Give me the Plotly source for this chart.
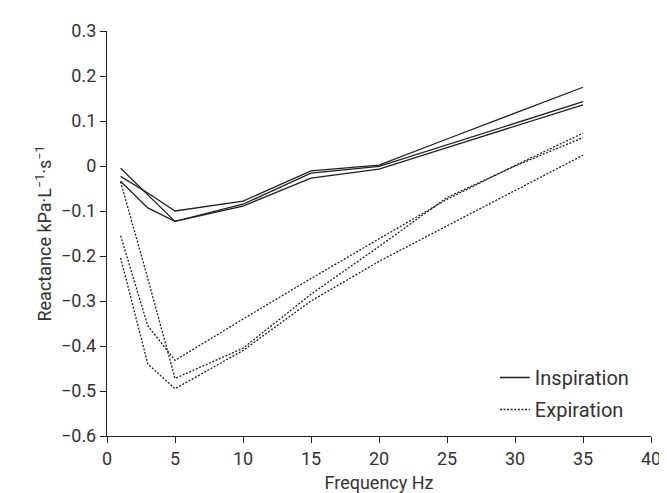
import plotly.graph_objects as go

freq = [1, 3, 5, 10, 15, 20, 25, 30, 35]

insp_1 = [-0.005, -0.065, -0.123, -0.085, -0.016, -0.001, 0.047, 0.095, 0.143]
insp_2 = [-0.023, -0.060, -0.100, -0.078, -0.011, 0.002, 0.060, 0.118, 0.175]
insp_3 = [-0.034, -0.093, -0.123, -0.089, -0.027, -0.007, 0.041, 0.088, 0.136]

exp_1 = [-0.035, -0.250, -0.472, -0.405, -0.285, -0.179, -0.070, 0.000, 0.063]
exp_2 = [-0.155, -0.355, -0.432, -0.340, -0.250, -0.162, -0.074, 0.001, 0.073]
exp_3 = [-0.204, -0.440, -0.495, -0.410, -0.300, -0.212, -0.133, -0.055, 0.024]

x_ticks = [0, 5, 10, 15, 20, 25, 30, 35, 40]
y_ticks = [0.3, 0.2, 0.1, 0, -0.1, -0.2, -0.3, -0.4, -0.5, -0.6]

INK = "#231f20"
TXT = "#333333"
FONT = "Roboto"

fig = go.Figure()
for i, ys in enumerate([insp_1, insp_2, insp_3]):
    fig.add_trace(go.Scatter(
        x=freq, y=ys, mode="lines", name="Inspiration",
        legendgroup="insp", showlegend=(i == 0),
        line=dict(color=INK, width=1.3),
    ))
for i, ys in enumerate([exp_1, exp_2, exp_3]):
    fig.add_trace(go.Scatter(
        x=freq, y=ys, mode="lines", name="Expiration",
        legendgroup="exp", showlegend=(i == 0),
        line=dict(color=INK, width=1.3, dash="2px,1.6px"),
    ))

fig.update_layout(
    width=667, height=493,
    margin=dict(l=99, r=24, t=18, b=63),
    paper_bgcolor="white", plot_bgcolor="white",
    font=dict(family=FONT, size=18, color=TXT),
    showlegend=True,
    legend=dict(
        x=0.713, y=0.105, xanchor="left", yanchor="middle",
        bgcolor="rgba(0,0,0,0)", font=dict(size=20, color=TXT),
        tracegroupgap=3,
    ),
    xaxis=dict(
        range=[0, 40], tickvals=x_ticks, ticktext=[str(v) for v in x_ticks],
        showgrid=False, zeroline=False, showline=True, linecolor=INK, linewidth=1.3,
        ticks="outside", ticklen=6, tickcolor=INK, tickwidth=1.3,
        title=dict(text="Frequency Hz", standoff=8, font=dict(size=18, color=TXT)),
        tickfont=dict(size=18, color=TXT),
    ),
    yaxis=dict(
        range=[-0.6, 0.3], tickvals=y_ticks,
        showgrid=False, zeroline=False, showline=True, linecolor=INK, linewidth=1.3,
        ticks="outside", ticklen=6, tickcolor=INK, tickwidth=1.3,
        title=dict(text="Reactance kPa·L<sup>−1</sup>·s<sup>−1</sup>", standoff=4,
                   font=dict(size=18, color=TXT)),
        tickfont=dict(size=18, color=TXT),
    ),
)

fig.write_html("out.html")
